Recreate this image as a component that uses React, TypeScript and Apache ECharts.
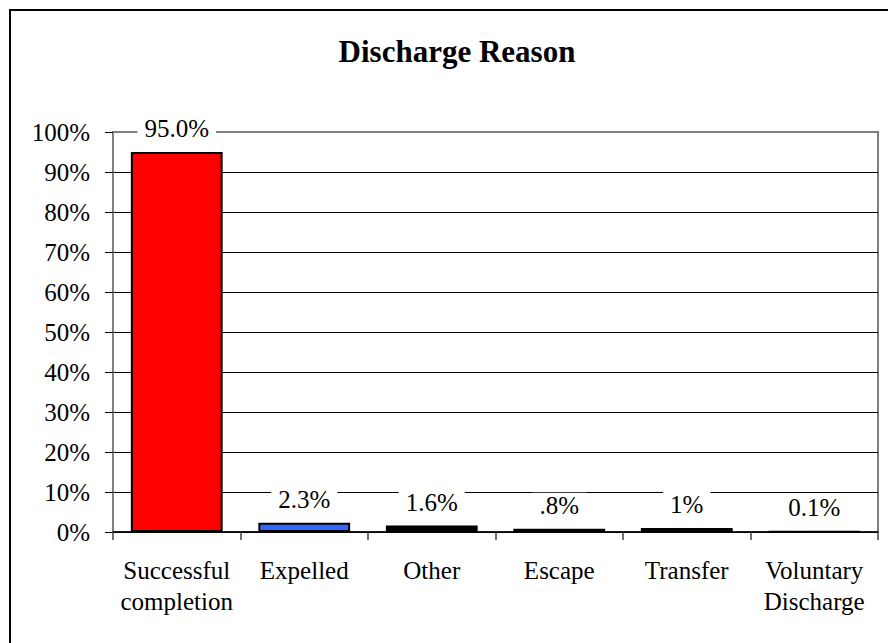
import React, { useEffect, useRef } from "react";
import * as echarts from "echarts";

// Discharge reasons and their share of all discharges (percent)
const categories = [
  "Successful\ncompletion",
  "Expelled",
  "Other",
  "Escape",
  "Transfer",
  "Voluntary\nDischarge",
];
const values = [95.0, 2.3, 1.6, 0.8, 1, 0.1];
const valueLabels = ["95.0%", "2.3%", "1.6%", ".8%", "1%", "0.1%"];
const barColors = ["#FF0000", "#3366FF", "#000000", "#000000", "#000000", "#000000"];
const yTicks = [0, 10, 20, 30, 40, 50, 60, 70, 80, 90, 100];

const FONT = "Liberation Serif";

export default function App() {
  const ref = useRef<HTMLDivElement>(null);

  useEffect(() => {
    if (!ref.current) return;
    const chart = echarts.init(ref.current, undefined, { renderer: "svg" });

    const option: echarts.EChartsOption = {
      animation: false,
      backgroundColor: "#ffffff",
      textStyle: { fontFamily: FONT },
      title: {
        text: "Discharge Reason",
        left: 452,
        top: 31,
        textAlign: "center",
        textStyle: {
          fontFamily: FONT,
          fontWeight: "bold",
          fontSize: 31,
          color: "#000",
        },
      },
      graphic: [
        {
          type: "rect",
          shape: { x: 10, y: 10, width: 900, height: 700 },
          style: { fill: "none", stroke: "#000", lineWidth: 2 },
          silent: true,
          z: 100,
        },
      ],
      grid: {
        left: 113,
        right: 10,
        top: 132,
        bottom: 111,
        show: true,
        borderColor: "#808080",
        borderWidth: 2,
        backgroundColor: "transparent",
      },
      xAxis: {
        type: "category",
        data: categories,
        axisLine: { show: true, lineStyle: { color: "#000", width: 1.5 } },
        axisTick: {
          show: true,
          alignWithLabel: false,
          length: 8,
          lineStyle: { color: "#404040", width: 1.5 },
        },
        axisLabel: {
          margin: 23,
          fontFamily: FONT,
          fontSize: 25,
          lineHeight: 31,
          color: "#000",
          interval: 0,
        },
      },
      yAxis: {
        type: "value",
        min: yTicks[0],
        max: yTicks[yTicks.length - 1],
        interval: 10,
        axisLine: { show: true, lineStyle: { color: "#808080", width: 2 } },
        axisTick: { show: true, length: 8, lineStyle: { color: "#000", width: 1 } },
        axisLabel: {
          margin: 23,
          fontFamily: FONT,
          fontSize: 25,
          color: "#000",
          formatter: (v: number) => `${v}%`,
        },
        splitLine: {
          show: true,
          lineStyle: {
            color: yTicks.map((t) => (t === 100 ? "#808080" : "#000000")),
            width: 1,
          },
        },
      },
      series: [
        {
          type: "bar",
          barWidth: "72%",
          data: values.map((v, i) => ({
            value: v,
            itemStyle: { color: barColors[i], borderColor: "#000", borderWidth: 2 },
          })),
          label: {
            show: true,
            position: "top",
            distance: 11,
            formatter: (p: any) => valueLabels[p.dataIndex],
            fontFamily: FONT,
            fontSize: 25,
            color: "#000",
            backgroundColor: "#ffffff",
            padding: [0, 7],
          },
          z: 3,
        },
      ],
    };

    chart.setOption(option);
    return () => chart.dispose();
  }, []);

  return (
    <div
      ref={ref}
      style={{ position: "fixed", left: 0, top: 0, width: 888, height: 643 }}
    />
  );
}
